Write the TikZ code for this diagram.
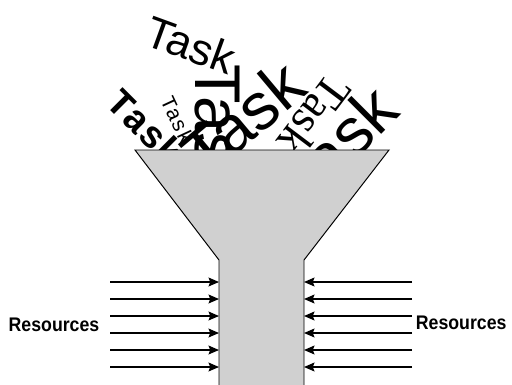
\documentclass[tikz,border=0pt]{standalone}
\usepackage{fontspec}
\usepackage{xcolor}
\usetikzlibrary{arrows.meta}
\setmainfont{Liberation Sans}
\newfontfamily\tasksans{Liberation Sans}
\newfontfamily\taskmono{Liberation Mono}
\newfontfamily\taskserif{Liberation Serif}
\newfontfamily\labelfont[FakeStretch=0.9]{Liberation Sans}
\definecolor{funnelgrey}{HTML}{D0D0D0}

\begin{document}
\begin{tikzpicture}[
  every node/.style={inner sep=0pt, outer sep=0pt},
  task/.style={anchor=base west, text=black},
  arrow/.style={-{Stealth[length=2.6mm, width=2.2mm, inset=0.4mm]}, line width=1.1pt, black},
  resource/.style={font=\labelfont\bfseries\fontsize{14}{16}\selectfont}
]
\clip (0,0) rectangle (12.8,9.6);

%% Tasks thrown into the funnel
\node[task, rotate=-20, font=\tasksans\fontsize{31.5}{34}\selectfont] (task1) at (3.56,8.5) {Task};
\node[task, rotate=-45, font=\taskmono\bfseries\fontsize{27}{30}\selectfont] (task2) at (2.6,7.0) {Task};
\node[task, rotate=-65, font=\taskmono\fontsize{15}{18}\selectfont] (task3) at (4.0,7.1) {Task};
\node[task, rotate=-90, font=\tasksans\fontsize{46}{50}\selectfont] (task4) at (4.875,8.0) {Task};
\node[task, rotate=40, font=\tasksans\fontsize{47}{50}\selectfont] (task5) at (5.15,5.1) {Task};
\node[task, rotate=-127, font=\taskserif\fontsize{33}{36}\selectfont] (task6) at (8.2,7.82) {Task};
\node[task, rotate=45, font=\tasksans\fontsize{47}{50}\selectfont] (task7) at (7.65,4.35) {Task};

%% Funnel
\draw[fill=funnelgrey, draw=black, line width=0.7pt]
  (3.375,5.85) -- (9.725,5.85) -- (7.6,3.1) -- (7.6,-0.5) -- (5.475,-0.5) -- (5.475,3.1) -- cycle;

%% Resources
\node[resource] (resL) at (1.35,1.475) {Resources};
\node[resource] (resR) at (11.53,1.525) {Resources};

\foreach \k in {1,...,6} {
  \coordinate (srcL\k) at (2.75,0.425*\k);
  \coordinate (inL\k) at (5.475,0.425*\k);
  \coordinate (srcR\k) at (10.3,0.425*\k);
  \coordinate (inR\k) at (7.6,0.425*\k);
  \draw[arrow] (srcL\k) -- (inL\k);
  \draw[arrow] (srcR\k) -- (inR\k);
}

\end{tikzpicture}
\end{document}
